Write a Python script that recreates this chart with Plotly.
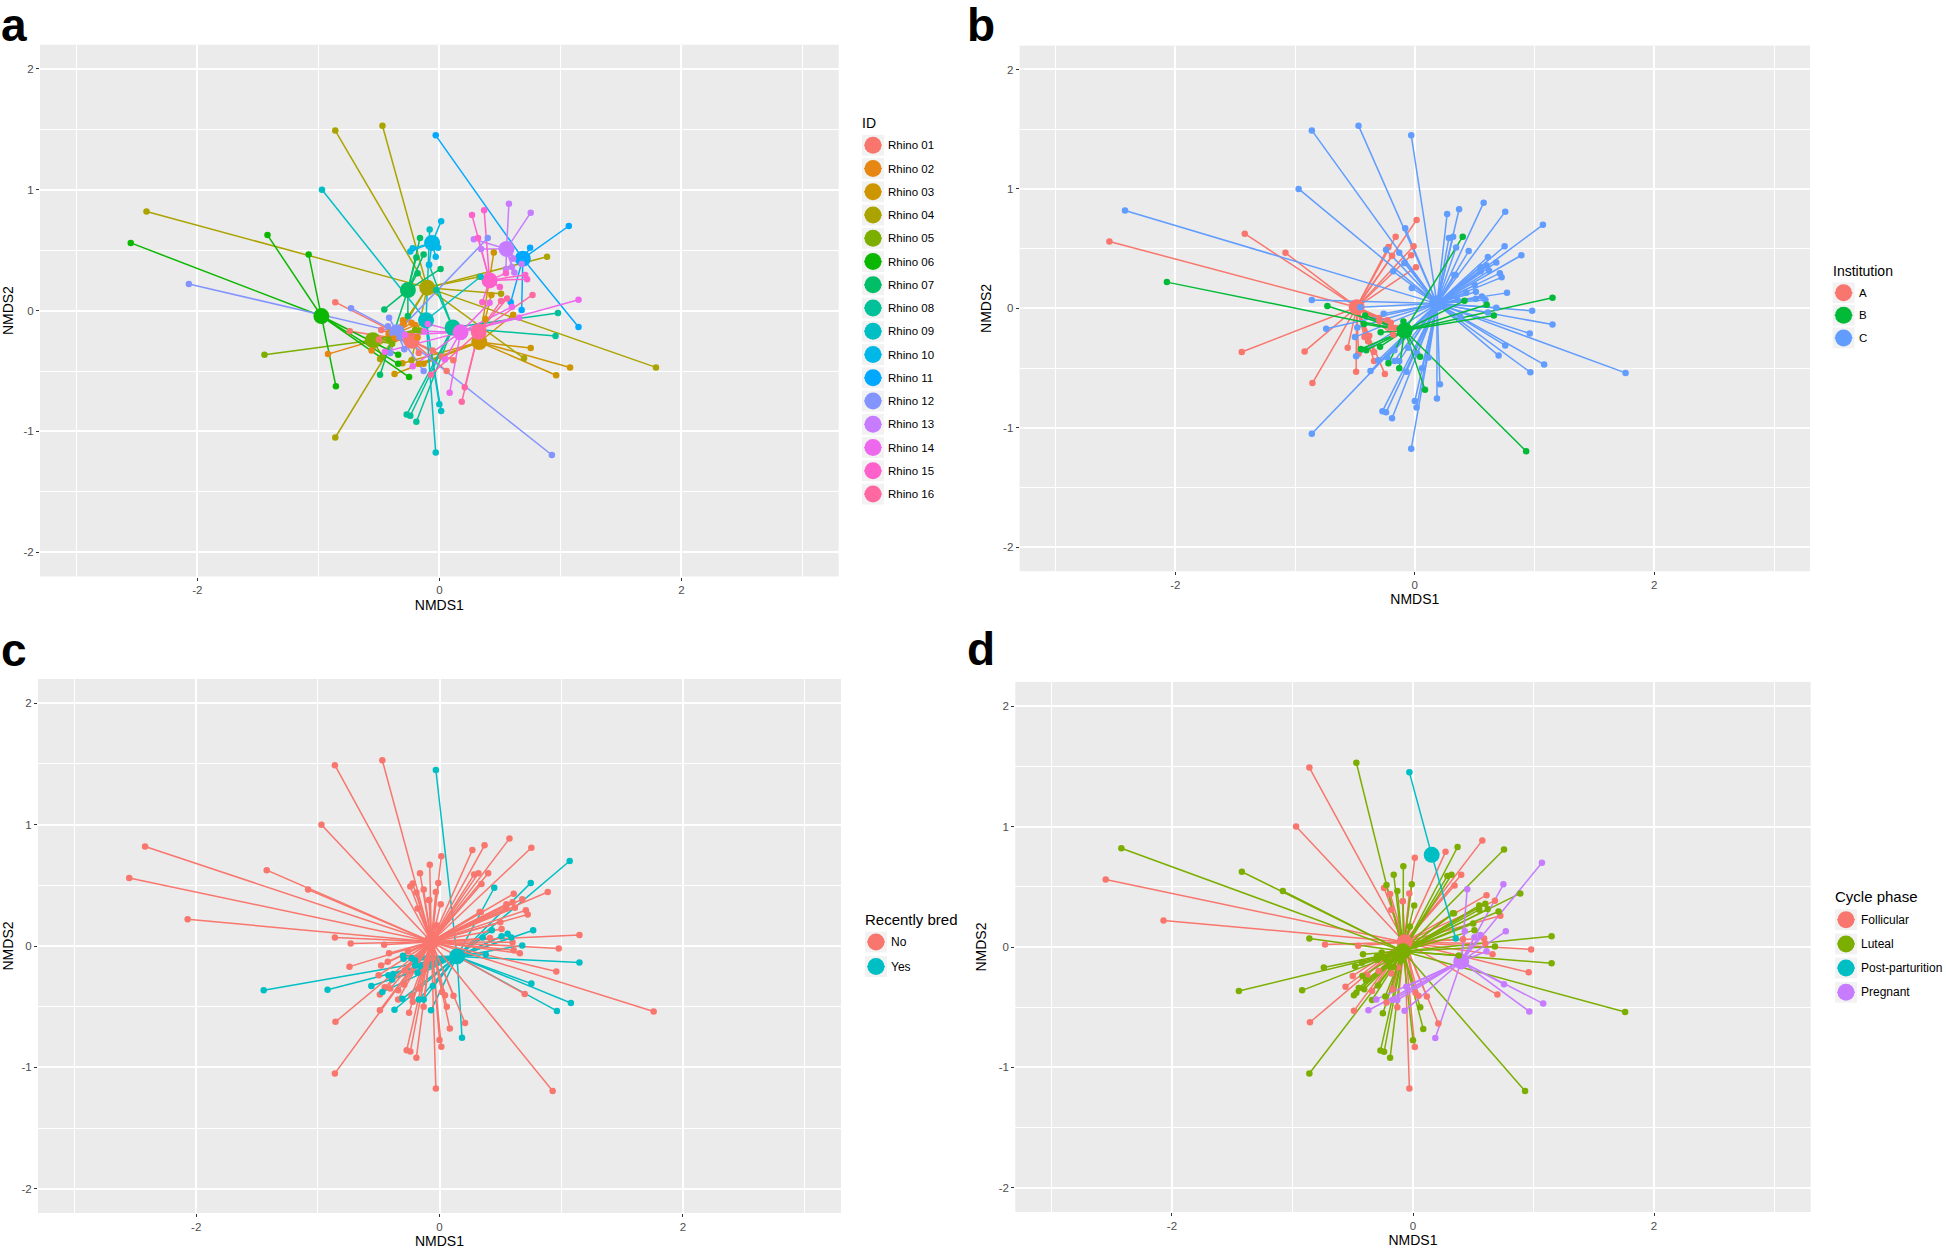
import plotly.graph_objects as go

# ---------- ordination scores, one set of arrays per rhino ----------
r01_x = [-.86,-.74,-.48,-.50,-.17,-.055,.06,.02,.115]
r01_y = [.07,-.17,-.16,-.24,-.35,-.33,-.50,-.38,-.41]
r02_x = [-.92,-.56,-.30,-.23,-.20,-.38,-.18,-.295]
r02_y = [-.36,-.33,-.08,-.10,-.12,-.23,-.22,-.105]
r03_x = [.755,1.08,.965,.45,.43,.38,.61,-.37,-.305,-.17,-.13]
r03_y = [-.31,-.47,-.535,.48,.13,-.07,-.035,-.525,-.435,-.44,-.44]
r04_x = [-2.42,-.86,-.47,1.79,-.86,.89,.51,.70,.33,-.49,-.23]
r04_y = [.82,1.49,1.53,-.47,-1.05,.445,.14,-.395,.28,-.40,-.41]
r05_x = [-1.445,-.39,-.20,-.16,-.47,-.42]
r05_y = [-.365,-.275,-.16,-.165,-.38,-.24]
r06_x = [-2.55,-1.42,-1.08,-.855,-.34,-.34,-.25]
r06_y = [.56,.625,.465,-.625,-.365,-.44,-.55]
r07_x = [-.16,-.19,-.13,.01,-.455,-.49,-.26,-.18]
r07_y = [.60,.44,.465,.345,.01,-.53,-.045,.31]
r08_x = [.98,.96,-.27,-.24,-.19,-.085,-.025]
r08_y = [-.02,-.21,-.86,-.87,-.92,.38,.17]
r09_x = [-.97,-.03,0,.015,-.08,.34]
r09_y = [1.0,-1.175,-.775,-.83,.67,.28]
r10_x = [.015,-.22,-.24,-.03,-.01,-.085]
r10_y = [.74,.515,.49,.445,.52,.38]
r11_x = [-.03,1.07,1.15,.75,.59,.68]
r11_y = [1.45,.70,-.135,.52,.07,.005]
r12_x = [-2.07,-.73,.93,.40,-.415,-.425,-.29,-.13,-.405]
r12_y = [.22,.02,-1.195,.60,-.06,-.13,-.32,-.5,-.35]
r13_x = [.575,.755,.285,.345,.55,.60,.62,.61,.68]
r13_y = [.885,.81,.59,.51,.345,.36,.315,.43,.385]
r14_x = [1.15,.66,.415,.60,.085,-.095,-.125,-.285,-.45,-.22,.045]
r14_y = [.09,-.06,.065,.03,-.68,-.11,-.17,-.2,-.34,-.46,-.405]
r15_x = [.27,.37,.32,.50,.71,.725,.55,.355]
r15_y = [.79,.83,.60,.195,.295,.26,.31,.07]
r16_x = [.77,.56,.51,.21,.185,-.07]
r16_y = [.13,.10,.08,-.635,-.755,-.53]

# the one score that sits elsewhere in panels b, c and d (Rhino 04, fourth point)
r04_other_x = 1.76
r04_other_y = -.54

# ---------- per-point group codes, in the same order as the scores ----------
institution_codes = ["CCCCCCCCC","AAAAAAAA","CCCCCCCCCCC","CCCCCCCCCCC","AAAAAA","AAAAAAA",
                     "AACACACC","CCCCCCC","CCCCCC","AACAAC","CCCCCC","BBBBBBBBB","CCCCCCCCC",
                     "BBBBBBBBBBB","CCCCCCCC","CCCCCC"]
bred_codes = ["NNNNNYNNN","YYYYYYYY","YYYYYYNYYYY","NNNNNNNNNNN","YYYYYY","NNNNNNN",
              "NNNNNNNN","NNNNNNN","NNNNNN","NNNNNN","YYYYYY","NNNNNNNNN","NNNNNNNNN",
              "NNNNNNNNNNN","NNNNNNNY","YYYNYY"]
phase_codes = ["LLLFFGLFF","LFLLLFFL","GGGGGLGGGGG","LFLLLLLFLLL","LLLLLL","FLLFFLL",
               "LFLLFFLF","FFLLLFL","FFLFLL","FLFFLF","PGLGFL","FFLFLLLFL","FLLFLLLFF",
               "LFFFLLFFLFF","FLLLLFLP","GGGFGG"]

# ---------- centroids ----------
id_cx = [-.23,-.38,.33,-.10,-.55,-.975,-.26,.11,-.11,-.06,.69,-.35,.555,.175,.415,.325]
id_cy = [-.25,-.20,-.26,.19,-.245,-.045,.17,-.14,-.08,.56,.43,-.18,.51,-.18,.25,-.175]
inst_centroids = {"A": (-.485,.01), "B": (-.085,-.185), "C": (.185,.04)}
bred_centroids = {"N": (-.067,.035), "Y": (.144,-.086)}
phase_centroids = {"F": (-.07,.04), "L": (-.083,-.036), "P": (.155,.765), "G": (.40,-.12)}

# ---------- labels and colours ----------
rhino_labels = ["Rhino %02d" % i for i in range(1, 17)]
rhino_colors = ["#F8766D","#E68613","#CD9600","#ABA300","#7CAE00","#0CB702","#00BE67","#00C19A",
                "#00BFC4","#00B8E7","#00A9FF","#8494FF","#C77CFF","#ED68ED","#FF61CC","#FF68A1"]
inst_labels = ["A","B","C"]
inst_colors = ["#F8766D","#00BA38","#619CFF"]
bred_labels = ["No","Yes"]
bred_colors = ["#F8766D","#00BFC4"]
phase_labels = ["Follicular","Luteal","Post-parturition","Pregnant"]
phase_colors = ["#F8766D","#7CAE00","#00BFC4","#C77CFF"]

all_x = [r01_x,r02_x,r03_x,r04_x,r05_x,r06_x,r07_x,r08_x,r09_x,r10_x,r11_x,r12_x,r13_x,r14_x,r15_x,r16_x]
all_y = [r01_y,r02_y,r03_y,r04_y,r05_y,r06_y,r07_y,r08_y,r09_y,r10_y,r11_y,r12_y,r13_y,r14_y,r15_y,r16_y]

W, H = 1946, 1250
FONT = "Liberation Sans"
fig = go.Figure()


def px(v):
    return v / W


def py(v):
    return 1 - v / H


def collect(codes):
    out = {}
    for i, (xs, ys, cs) in enumerate(zip(all_x, all_y, codes)):
        for j, (x, y, c) in enumerate(zip(xs, ys, cs)):
            if i == 3 and j == 3:
                x, y = r04_other_x, r04_other_y
            out.setdefault(c, ([], []))
            out[c][0].append(x)
            out[c][1].append(y)
    return out


def add_group(n, name, color, cx, cy, xs, ys, kind):
    ax = {"xaxis": "x" if n == 1 else f"x{n}", "yaxis": "y" if n == 1 else f"y{n}"}
    if kind == "lines":
        lx, ly = [], []
        for x, y in zip(xs, ys):
            lx += [cx, x, None]
            ly += [cy, y, None]
        fig.add_trace(go.Scatter(x=lx, y=ly, mode="lines", name=name, showlegend=False,
                                 line=dict(color=color, width=1.5), hoverinfo="skip", **ax))
    elif kind == "centroid":
        fig.add_trace(go.Scatter(x=[cx], y=[cy], mode="markers", name=name, showlegend=False,
                                 marker=dict(color=color, size=16, line_width=0), **ax))
    else:
        fig.add_trace(go.Scatter(x=xs, y=ys, mode="markers", name=name, showlegend=False,
                                 marker=dict(color=color, size=6.5, line_width=0), **ax))


def draw_panel(n, groups, line_order, point_order):
    for kind, order in (("lines", line_order), ("centroid", point_order), ("points", point_order)):
        for k in order:
            name, color, cx, cy, xs, ys = groups[k]
            add_group(n, name, color, cx, cy, xs, ys, kind)


# panel a
groups_a = [(rhino_labels[i], rhino_colors[i], id_cx[i], id_cy[i], all_x[i], all_y[i]) for i in range(16)]
draw_panel(1, groups_a, range(16), range(16))

# panel b
pts = collect(institution_codes)
groups_b = [(inst_labels[i], inst_colors[i], *inst_centroids[k], *pts[k]) for i, k in enumerate("ABC")]
draw_panel(2, groups_b, [0, 2, 1], [0, 2, 1])

# panel c
pts = collect(bred_codes)
groups_c = [(bred_labels[i], bred_colors[i], *bred_centroids[k], *pts[k]) for i, k in enumerate("NY")]
draw_panel(3, groups_c, [1, 0], [0, 1])

# panel d
pts = collect(phase_codes)
groups_d = [(phase_labels[i], phase_colors[i], *phase_centroids[k], *pts[k]) for i, k in enumerate("FLPG")]
draw_panel(4, groups_d, [0, 1, 2, 3], [0, 1, 2, 3])

# ---------- axes ----------
panels = {1: (40, 838.7, 44.7, 576.5), 2: (1019.6, 1810, 45.6, 571.2),
          3: (38, 841, 679, 1213), 4: (1015.3, 1810.7, 682, 1212)}
for n, (l, r, t, b) in panels.items():
    s = "" if n == 1 else str(n)
    common = dict(showgrid=True, gridcolor="white", gridwidth=1.7, zeroline=False, showline=False,
                  ticks="outside", ticklen=3, tickwidth=1, tickcolor="#333333",
                  tickfont=dict(family=FONT, size=11.5, color="#4D4D4D"), tickmode="array", automargin=False)
    fig.layout["xaxis" + s] = dict(domain=[px(l), px(r)], range=[-3.3, 3.3], anchor="y" + s,
                                   tickvals=[-2, 0, 2], ticktext=["-2", "0", "2"],
                                   minor=dict(tickmode="array", tickvals=[-3, -1, 1, 3], showgrid=True,
                                              gridcolor="white", gridwidth=0.85, ticks=""),
                                   title=dict(text="NMDS1", standoff=4, font=dict(family=FONT, size=14, color="black")),
                                   **common)
    fig.layout["yaxis" + s] = dict(domain=[py(b), py(t)], range=[-2.2, 2.2], anchor="x" + s,
                                   tickvals=[-2, -1, 0, 1, 2], ticktext=["-2", "-1", "0", "1", "2"],
                                   minor=dict(tickmode="array", tickvals=[-1.5, -.5, .5, 1.5], showgrid=True,
                                              gridcolor="white", gridwidth=0.85, ticks=""),
                                   title=dict(text="NMDS2", standoff=8, font=dict(family=FONT, size=14, color="black")),
                                   **common)

# ---------- legends (key squares, dots and labels) ----------
shapes = []
annotations = []


def legend(title, labels, colors, kx, title_y, first_y, step, tsize, lsize, key=22, dot=17):
    annotations.append(dict(text=title, x=px(kx), y=py(title_y), xref="paper", yref="paper", xanchor="left",
                            yanchor="middle", showarrow=False, xshift=-2, font=dict(family=FONT, size=tsize, color="black")))
    for i, (lab, col) in enumerate(zip(labels, colors)):
        cy = first_y + i * step
        cx = kx + key / 2
        shapes.append(dict(type="rect", xref="paper", yref="paper", x0=px(kx), x1=px(kx + key),
                           y0=py(cy - key / 2 + .6), y1=py(cy + key / 2 - .6), fillcolor="#F2F2F2", line_width=0))
        shapes.append(dict(type="line", xref="paper", yref="paper", x0=px(kx + 2), x1=px(kx + key - 2),
                           y0=py(cy), y1=py(cy), line=dict(color=col, width=1.2)))
        shapes.append(dict(type="circle", xref="paper", yref="paper", x0=px(cx - dot / 2), x1=px(cx + dot / 2),
                           y0=py(cy - dot / 2), y1=py(cy + dot / 2), fillcolor=col, line_width=0))
        annotations.append(dict(text=lab, x=px(kx + key + 4), y=py(cy), xref="paper", yref="paper", xanchor="left",
                                yanchor="middle", showarrow=False, xshift=-2, font=dict(family=FONT, size=lsize, color="black")))


legend("ID", rhino_labels, rhino_colors, 862, 122.7, 145.3, 23.25, 14, 11.5)
legend("Institution", inst_labels, inst_colors, 1832.6, 271, 292.7, 22.6, 14, 11.5)
legend("Recently bred", bred_labels, bred_colors, 865, 919.7, 942, 24.6, 15, 12)
legend("Cycle phase", phase_labels, phase_colors, 1835, 896, 919.7, 24.2, 15, 12)

# panel letters
for letter, x, y in (("a", 1, 25), ("b", 967, 25), ("c", 1, 650), ("d", 967, 649)):
    annotations.append(dict(text=f"<b>{letter}</b>", x=px(x), y=py(y), xref="paper", yref="paper", xanchor="left",
                            yanchor="middle", showarrow=False, xshift=-2, font=dict(family=FONT, size=46, color="black")))

fig.update_layout(width=W, height=H, autosize=False, margin=dict(l=0, r=0, t=0, b=0), paper_bgcolor="white",
                  plot_bgcolor="#EBEBEB", showlegend=False, shapes=shapes, annotations=annotations,
                  font=dict(family=FONT))

fig.write_html("out.html", config={"displayModeBar": False},
               post_script="document.body.style.margin='0';document.body.style.overflow='hidden';")
